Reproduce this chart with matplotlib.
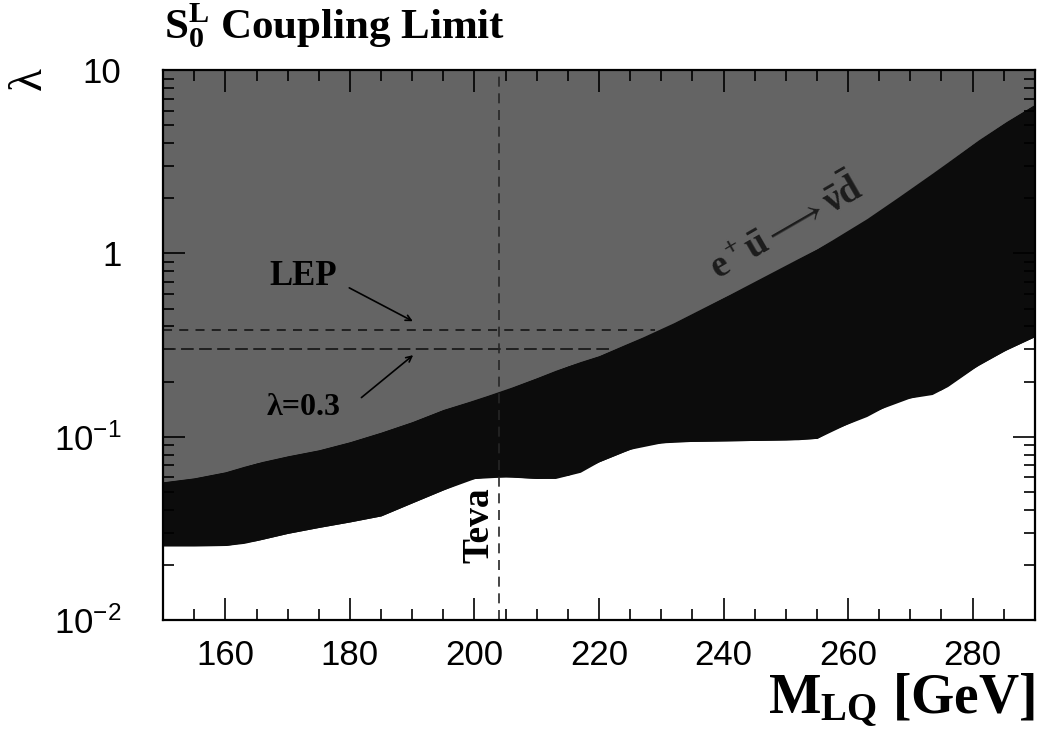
import numpy as np
import matplotlib
matplotlib.use("Agg")
from matplotlib import pyplot as plt
from matplotlib.ticker import FixedLocator, MultipleLocator, NullFormatter

plt.rcParams['font.family'] = ['Liberation Sans', 'DejaVu Sans']
plt.rcParams['mathtext.fontset'] = 'custom'
plt.rcParams['mathtext.rm'] = 'Liberation Serif'
plt.rcParams['mathtext.it'] = 'Liberation Serif:italic'
plt.rcParams['mathtext.bf'] = 'Liberation Serif:bold'
plt.rcParams['mathtext.default'] = 'regular'

# upper edge of the dark band (e+ u -> nu d contact limit)
m_upper = [150, 155, 160, 165, 170, 175, 180, 185, 190, 195, 200, 205, 210, 215,
           220, 225, 230, 235, 240, 245, 250, 255, 260, 265, 270, 275, 280, 285, 290]
lam_upper = [0.0568, 0.0597, 0.0644, 0.0721, 0.0787, 0.0849, 0.0940, 0.106, 0.121,
             0.141, 0.159, 0.181, 0.210, 0.244, 0.277, 0.327, 0.385, 0.470, 0.575,
             0.695, 0.859, 1.06, 1.32, 1.70, 2.24, 2.95, 3.94, 5.13, 6.52]

# lower edge of the dark band (excluded region limit)
m_lower = [150, 155, 160, 163, 166, 170, 175, 180, 185, 190, 195, 199, 202, 206, 210,
           213, 217, 220, 224, 227, 232, 241, 252, 255, 257.5, 263, 268, 273.5, 276,
           281, 285.5, 290]
lam_lower = [0.0254, 0.0254, 0.0255, 0.0262, 0.0276, 0.0297, 0.0320, 0.0343, 0.0370,
             0.0436, 0.0513, 0.0585, 0.0604, 0.0604, 0.0592, 0.0592, 0.0640, 0.0730,
             0.083, 0.0904, 0.094, 0.095, 0.0963, 0.098, 0.109, 0.129, 0.159, 0.170,
             0.188, 0.247, 0.299, 0.352]

lep_lambda = 0.38
lep_mmax = 229
ref_lambda = 0.3
ref_mmax = 222
teva_mass = 204

ytick_vals = [0.01, 0.1, 1, 10]
ytick_labels = ['$10^{-2}$', '$10^{-1}$', '1', '10']
xtick_vals = [160, 180, 200, 220, 240, 260, 280]

fig = plt.figure(figsize=(10.39, 7.47), dpi=100)
ax = fig.add_axes([0.157, 0.170, 0.839, 0.736])

ax.set_yscale('log')
ax.set_xlim(150, 290)
ax.set_ylim(0.01, 10)

ax.fill_between(m_upper, lam_upper, 10, color='#646464', lw=0, zorder=1)
ax.fill_between(m_lower, lam_lower, np.interp(m_lower, m_upper, lam_upper),
                color='#0c0c0c', lw=0, zorder=1)
ax.fill_between(m_upper, np.interp(m_upper, m_lower, lam_lower), lam_upper,
                color='#0c0c0c', lw=0, zorder=1)

ax.plot([150, lep_mmax], [lep_lambda, lep_lambda], color='#1a1a1a', lw=1.3,
        ls=(0, (5, 4)), zorder=2)
ax.plot([150, ref_mmax], [ref_lambda, ref_lambda], color='#1a1a1a', lw=1.3,
        ls=(0, (7, 3)), zorder=2)
ax.plot([teva_mass, teva_mass], [0.01, 10], color='#262626', lw=1.2,
        ls=(0, (6, 4)), zorder=2)

serif = ['Liberation Serif', 'DejaVu Serif']
ax.text(172.5, 0.75, 'LEP', family=serif, weight='bold', fontsize=25,
        ha='center', va='center', color='black', zorder=3)
ax.annotate('', xy=(190.5, 0.42), xytext=(179.5, 0.66),
            arrowprops=dict(arrowstyle='->', color='black', lw=1.2), zorder=3)
ax.text(172.5, 0.145, 'λ=0.3', family=serif, weight='bold', fontsize=23,
        ha='center', va='center', color='black', zorder=3)
ax.annotate('', xy=(190.5, 0.285), xytext=(181.5, 0.16),
            arrowprops=dict(arrowstyle='->', color='black', lw=1.2), zorder=3)
ax.text(200.7, 0.033, 'Teva', family=serif, weight='bold', fontsize=27,
        rotation=90, ha='center', va='center', color='black', zorder=3)
ax.text(250, 1.38, r'$e^+\bar{u}\longrightarrow\bar{\nu}\bar{d}$', family=serif,
        weight='bold', fontsize=27, rotation=30, ha='center', va='center',
        color='#1c1c1c', zorder=3)

ax.xaxis.set_major_locator(FixedLocator(xtick_vals))
ax.xaxis.set_minor_locator(MultipleLocator(5))
ax.set_xticklabels([str(v) for v in xtick_vals])
ax.yaxis.set_major_locator(FixedLocator(ytick_vals))
ax.set_yticklabels(ytick_labels)
ax.yaxis.set_minor_locator(FixedLocator(
    [k * 10.0 ** e for e in (-2, -1, 0) for k in range(2, 10)]))
ax.yaxis.set_minor_formatter(NullFormatter())

ax.tick_params(which='both', direction='in', top=True, right=True,
               color='black', width=1.2, labelsize=25)
ax.tick_params(which='major', length=16)
ax.tick_params(which='minor', length=8)
ax.tick_params(axis='x', which='major', pad=14)
ax.tick_params(axis='y', which='major', pad=30)
for s in ax.spines.values():
    s.set_linewidth(1.6)
    s.set_zorder(4)

fig.text(0.158, 0.948, r'$S_0^L$ Coupling Limit', family=serif, weight='bold',
         fontsize=31, ha='left', va='baseline')
fig.text(0.996, 0.045, r'$M_{LQ}$ [GeV]', family=serif, weight='bold',
         fontsize=40, ha='right', va='baseline')
fig.text(0.028, 0.895, 'λ', family=serif, fontsize=34, rotation=90,
         ha='center', va='center')

fig.savefig('out.png', dpi=100)
